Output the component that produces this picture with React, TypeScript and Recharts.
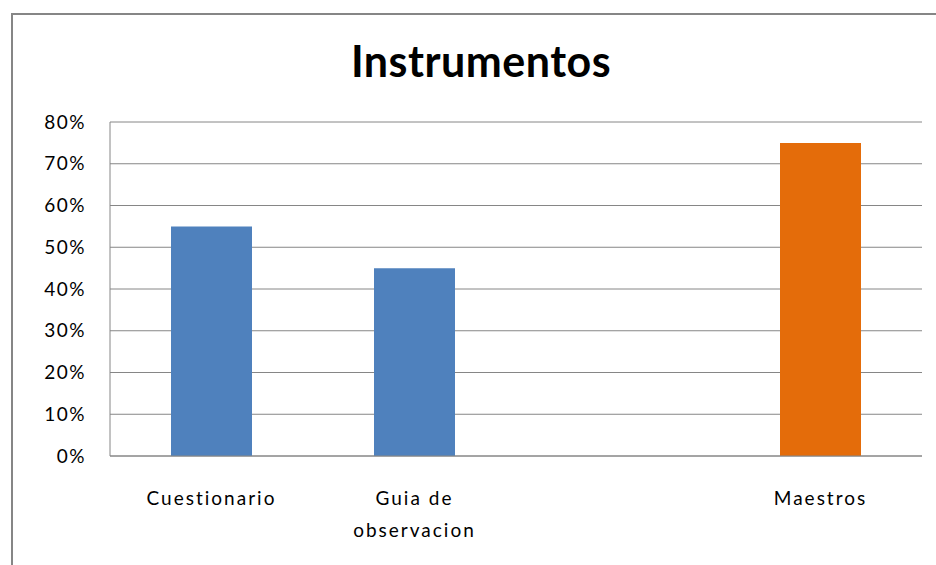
import { BarChart, Bar, XAxis, YAxis, CartesianGrid, Cell } from 'recharts';

const categories = ['Cuestionario', 'Guia de observacion', '', 'Maestros'];
const values = [0.55, 0.45, null, 0.75];
const barColors = ['#4F81BD', '#4F81BD', '#4F81BD', '#E46C0A'];
const yTicks = [0, 0.1, 0.2, 0.3, 0.4, 0.5, 0.6, 0.7, 0.8];

const data = categories.map((name, i) => ({ name, value: values[i] }));

const FONT = 'Lato, "Open Sans", sans-serif';

// greedy word wrap, roughly what excel does for narrow category slots
function wrapLabel(label: string, maxChars = 12): string[] {
  const lines: string[] = [];
  let cur = '';
  for (const w of label.split(' ')) {
    if (cur && (cur + ' ' + w).length > maxChars) {
      lines.push(cur);
      cur = w;
    } else {
      cur = cur ? cur + ' ' + w : w;
    }
  }
  if (cur) lines.push(cur);
  return lines;
}

const CategoryTick = (props: any) => {
  const { x, y, payload } = props;
  const lines = wrapLabel(String(payload.value));
  return (
    <text
      x={x}
      y={y}
      textAnchor="middle"
      fontSize={19}
      fontFamily={FONT}
      letterSpacing={2}
      fill="#000"
    >
      {lines.map((l, i) => (
        <tspan key={i} x={x} y={y + 49 + i * 32}>
          {l}
        </tspan>
      ))}
    </text>
  );
};

export default function App() {
  return (
    <div style={{ position: 'absolute', left: 0, top: 0, width: 936, height: 565, background: '#fff', overflow: 'hidden' }}>
      <div
        style={{
          position: 'absolute',
          left: 11,
          top: 13,
          width: 960,
          height: 600,
          border: '2px solid #868686',
          boxSizing: 'border-box',
        }}
      />
      <div
        style={{
          position: 'absolute',
          left: 0,
          top: 35,
          width: 962,
          textAlign: 'center',
          fontFamily: FONT,
          fontWeight: 700,
          fontSize: 43,
          letterSpacing: 0.5,
          color: '#000',
        }}
      >
        Instrumentos
      </div>
      <div style={{ position: 'absolute', left: 0, top: 0 }}>
        <BarChart
          width={936}
          height={565}
          data={data}
          margin={{ top: 122, right: 14, left: 0, bottom: 29 }}
          barCategoryGap={61}
        >
          <CartesianGrid vertical={false} stroke="#868686" strokeWidth={1} />
          <XAxis
            dataKey="name"
            height={80}
            axisLine={{ stroke: '#868686' }}
            tickLine={false}
            tickSize={0}
            tickMargin={0}
            tick={<CategoryTick />}
            interval={0}
          />
          <YAxis
            width={110}
            domain={[0, 0.8]}
            ticks={yTicks}
            tickFormatter={(v: number) => `${Math.round(v * 100)}%`}
            axisLine={{ stroke: '#868686' }}
            tickLine={false}
            tickSize={0}
            tickMargin={24}
            tick={{ fontSize: 19, fontFamily: FONT, fill: '#000', letterSpacing: 1.5 }}
          />
          <Bar dataKey="value" isAnimationActive={false}>
            {data.map((_, i) => (
              <Cell key={i} fill={barColors[i]} />
            ))}
          </Bar>
        </BarChart>
      </div>
    </div>
  );
}
